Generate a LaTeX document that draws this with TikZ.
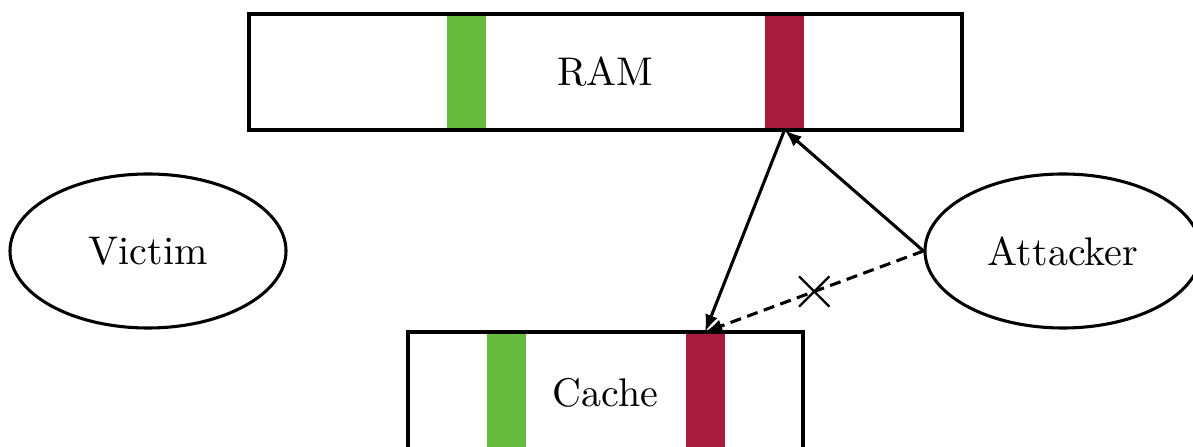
\documentclass[tikz,border=0pt]{standalone}
\usetikzlibrary{arrows.meta,shapes.geometric,shapes.misc}
\definecolor{barGreen}{HTML}{66BB3F}
\definecolor{barRed}{HTML}{A91B3C}
\newcommand\pxu{0.26pt}
\begin{document}
\begin{tikzpicture}[x=0.26pt,y=-0.26pt, line width=0.8pt,
  every node/.style={font=\fontsize{10.4pt}{12.5pt}\selectfont},
  box/.style={draw, rectangle, inner sep=0pt},
  bar/.style={rectangle, inner sep=0pt, outer sep=0pt, minimum width=39*\pxu},
  actor/.style={draw, ellipse, inner sep=0pt, minimum width=276*\pxu, minimum height=154*\pxu},
  arr/.style={-{Latex[length=4.5pt,width=3.4pt]}},
  blocked/.style={dash pattern=on 2.9pt off 1.7pt},
  crossmark/.style={cross out, draw, solid, line width=0.6pt, inner sep=0pt, minimum size=28*\pxu}]
\useasboundingbox (0,0) rectangle (1193,447);
% RAM
\node[bar, fill=barGreen, minimum height=116*\pxu] (ramg) at (466.5,72) {};
\node[bar, fill=barRed, minimum height=116*\pxu] (ramr) at (784.5,72) {};
\node[box, minimum width=713*\pxu, minimum height=116*\pxu] (ram) at (605.5,72) {RAM};
% Cache
\node[bar, fill=barGreen, minimum height=122*\pxu] (cacheg) at (506.5,393) {};
\node[bar, fill=barRed, minimum height=122*\pxu] (cacher) at (705,393) {};
\node[box, minimum width=395*\pxu, minimum height=122*\pxu] (cache) at (605.5,393) {Cache};
% actors
\node[actor] (victim) at (148,251) {Victim};
\node[actor] (attacker) at (1063,251) {Attacker};
% connectors
\draw[arr] (attacker.west) -- (ramr.south);
\draw[arr] (ramr.south) -- (cacher.north);
\draw[arr, blocked] (attacker.west) -- node[crossmark] (block) {} (cacher.north);
\end{tikzpicture}
\end{document}
